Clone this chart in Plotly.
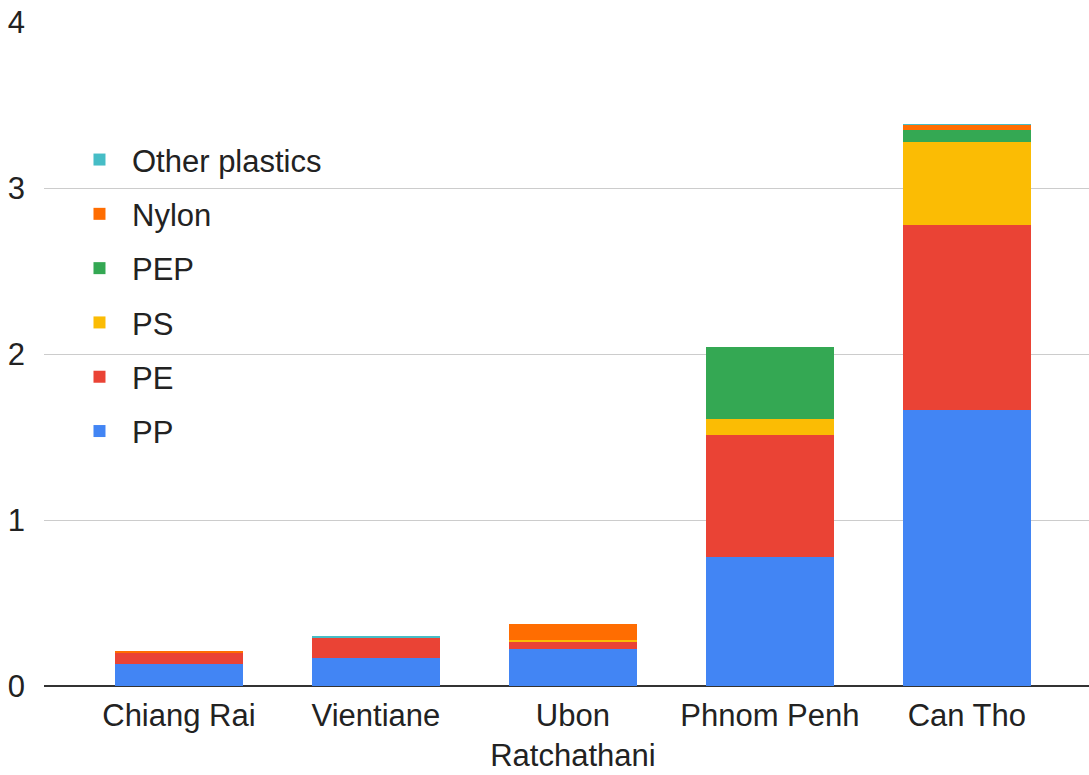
import plotly.graph_objects as go

# Cities along the x axis
cities = ["Chiang Rai", "Vientiane", "Ubon<br>Ratchathani", "Phnom Penh", "Can Tho"]

# Stacked series per polymer type
pp = [0.13, 0.17, 0.22, 0.78, 1.66]
pe = [0.07, 0.12, 0.045, 0.73, 1.12]
ps = [0.0, 0.0, 0.015, 0.10, 0.50]
pep = [0.0, 0.0, 0.0, 0.43, 0.07]
nylon = [0.005, 0.0, 0.095, 0.0, 0.03]
other = [0.0, 0.01, 0.0, 0.0, 0.005]

series_names = ["PP", "PE", "PS", "PEP", "Nylon", "Other plastics"]
series_values = [pp, pe, ps, pep, nylon, other]
series_colors = ["#4285F4", "#EA4335", "#FBBC04", "#34A853", "#FF6D01", "#46BDC6"]

y_ticks = [0, 1, 2, 3, 4]

font_family = "Liberation Sans, Arial, sans-serif"
text_color = "#222222"

fig = go.Figure()
n = len(series_names)
for i, (name, vals, color) in enumerate(zip(series_names, series_values, series_colors)):
    fig.add_trace(go.Bar(
        x=list(range(len(cities))),
        y=vals,
        name=name,
        marker=dict(color=color, line=dict(width=0)),
        width=0.65,
        legendgroup=name,
        legendrank=(n - i) * 10,  # top of the stack listed first
    ))

fig.update_layout(
    barmode="stack",
    width=1089,
    height=775,
    margin=dict(l=44, r=0, t=22, b=89),
    paper_bgcolor="white",
    plot_bgcolor="white",
    font=dict(family=font_family, size=32, color=text_color),
    showlegend=True,
    legend=dict(
        traceorder="grouped",
        x=0.022,
        y=0.833,
        xanchor="left",
        yanchor="top",
        bgcolor="rgba(0,0,0,0)",
        font=dict(size=31, color=text_color),
        tracegroupgap=11,
        itemwidth=55,
    ),
    xaxis=dict(
        tickmode="array",
        tickvals=list(range(len(cities))),
        ticktext=cities,
        range=[-0.685, 4.62],
        showgrid=False,
        showline=False,
        ticks="",
        zeroline=False,
        automargin=False,
        ticklabelstandoff=8,
        tickfont=dict(size=31, color=text_color),
    ),
    yaxis=dict(
        range=[0, 4],
        tickvals=y_ticks,
        ticktext=[str(v) for v in y_ticks],
        showgrid=True,
        gridcolor="#CCCCCC",
        gridwidth=1,
        zeroline=True,
        zerolinecolor="#333333",
        zerolinewidth=1.5,
        ticks="",
        automargin=False,
        ticklabelstandoff=18,
        tickfont=dict(size=31, color=text_color),
    ),
)

fig.write_html("out.html")
